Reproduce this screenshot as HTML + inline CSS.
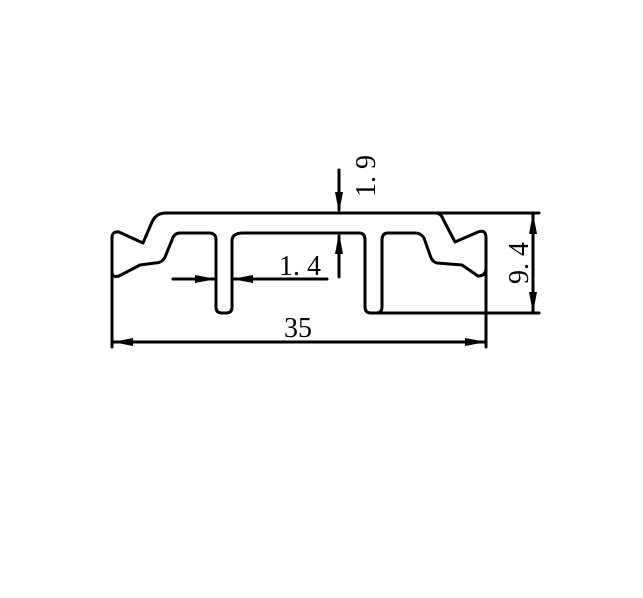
<!DOCTYPE html>
<html><head><style>html,body{margin:0;padding:0;background:#fff}</style></head>
<body>
<svg width="643" height="593" viewBox="0 0 643 593" xmlns="http://www.w3.org/2000/svg">
<g fill="none" stroke="#000" stroke-width="3" stroke-linejoin="round" stroke-linecap="round">
<path d="M112,272 L112,238 Q112,231 119,232 L143,243 L152,222 Q156,213 166,213 L435,213 Q441,213 443,219 L455,242 L478,232 Q486,229 486,238 L486,268 Q486,276 478,276 L462,265 L437,263 Q432,262 430,255 L424,238 Q421,233 415,233 L388,233 Q382,233 382,240 L382,307 Q382,313 376,313 L371,313 Q365,313 365,307 L365,240 Q365,233 359,233 L243,233 Q232,233 232,241 L232,307 Q232,313 226,313 L222,313 Q216,313 216,307 L216,240 Q216,233 209,233 L180,233 Q174,233 172,240 L165,257 Q162,263 155,263 L140,265 L119,276 Q112,278 112,272"/>
<line x1="112" y1="272" x2="112" y2="347"/>
<line x1="486" y1="268" x2="486" y2="347"/>
<line x1="435" y1="213" x2="539" y2="213"/>
<line x1="376" y1="313" x2="539" y2="313"/>
<line x1="112" y1="342" x2="486" y2="342"/>
<line x1="533" y1="213" x2="533" y2="313"/>
<line x1="339" y1="170" x2="339" y2="210"/>
<line x1="339" y1="236" x2="339" y2="277"/>
<line x1="173" y1="279" x2="214" y2="279"/>
<line x1="234" y1="279" x2="327" y2="279"/>
</g>
<g fill="#000">
<polygon points="112,342 133,338 133,346"/>
<polygon points="486,342 465,338 465,346"/>
<polygon points="533,213 529,234 537,234"/>
<polygon points="533,313 529,292 537,292"/>
<polygon points="339,213 335,192 343,192"/>
<polygon points="339,233 335,254 343,254"/>
<polygon points="216,279 195,275 195,283"/>
<polygon points="232,279 253,275 253,283"/>
</g>
<g font-family="'Liberation Serif', serif" font-size="28" fill="#000">
<text x="298" y="337" text-anchor="middle">35</text>
<text x="300" y="275" text-anchor="middle">1. 4</text>
<text transform="translate(375,176) rotate(-90)" text-anchor="middle">1. 9</text>
<text transform="translate(528,263) rotate(-90)" text-anchor="middle">9. 4</text>
</g>
</svg>
</body></html>
